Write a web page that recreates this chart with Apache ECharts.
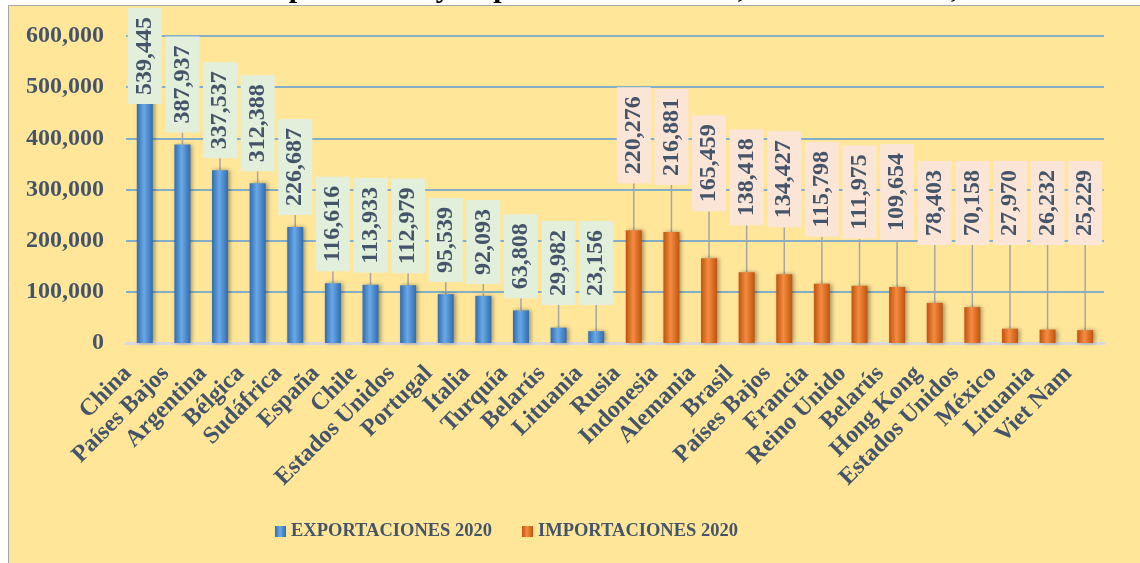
<!DOCTYPE html>
<html>
<head>
<meta charset="utf-8">
<script src="https://cdn.jsdelivr.net/npm/echarts@6/dist/echarts.min.js"></script>
<style>
  html, body { margin: 0; padding: 0; background: #fff; }
  #chart { width: 1140px; height: 563px; }
</style>
</head>
<body>
<div id="chart"></div>
<script>
// datos (toneladas, 2020)
const exportCountries = ['China', 'Países Bajos', 'Argentina', 'Bélgica', 'Sudáfrica', 'España', 'Chile',
  'Estados Unidos', 'Portugal', 'Italia', 'Turquía', 'Belarús', 'Lituania'];
const exportValues = [539445, 387937, 337537, 312388, 226687, 116616, 113933, 112979, 95539, 92093, 63808, 29982, 23156];
const importCountries = ['Rusia', 'Indonesia', 'Alemania', 'Brasil', 'Países Bajos', 'Francia', 'Reino Unido',
  'Belarús', 'Hong Kong', 'Estados Unidos', 'México', 'Lituania', 'Viet Nam'];
const importValues = [220276, 216881, 165459, 138418, 134427, 115798, 111975, 109654, 78403, 70158, 27970, 26232, 25229];
const yTicks = [0, 100000, 200000, 300000, 400000, 500000, 600000];
const seriesNames = ['EXPORTACIONES 2020', 'IMPORTACIONES 2020'];

const categories = exportCountries.concat(importCountries);
const pad = n => new Array(n).fill('-');
const exportData = exportValues.concat(pad(importValues.length));
const importData = pad(exportValues.length).concat(importValues);

const font = 'Liberation Serif';
const txt = '#44546A';
const fmt = v => Number(v).toLocaleString('en-US');

const chart = echarts.init(document.getElementById('chart'));

// coloca la llamada encima de la barra (girada 90°: dx local = hacia arriba)
// gap: separación mínima con la barra, floor: borde inferior más bajo permitido
function lift(gap, floor) {
  return function (p) {
    const r = p.labelRect;
    const bottom = Math.min(p.rect.y - gap, floor);
    let up = (r.y + r.height) - bottom;
    if (r.y - up < 8) up = r.y - 8;
    return { dx: up };
  };
}

function barColor(edge, mid) {
  return new echarts.graphic.LinearGradient(0, 0, 1, 0, [
    { offset: 0, color: edge },
    { offset: 0.45, color: mid },
    { offset: 1, color: edge }
  ]);
}

function labelOpt(bg) {
  return {
    show: true,
    position: 'top',
    distance: 4,
    rotate: 90,
    align: 'left',
    verticalAlign: 'middle',
    formatter: p => fmt(p.value),
    color: txt,
    fontFamily: font,
    fontWeight: 'bold',
    fontSize: 24,
    backgroundColor: bg,
    padding: [6, 9, 4, 9]
  };
}

chart.setOption({
  backgroundColor: '#fff',
  animation: false,
  graphic: [{
    type: 'rect',
    z: -10,
    silent: true,
    shape: { x: 8.5, y: 5.5, width: 1140, height: 570 },
    style: { fill: '#FFE699', stroke: '#A6A6A6', lineWidth: 1 }
  }],
  title: {
    text: 'Gráfico 1: Importadores y Exportadores de Pera, a nivel mundial, 2020',
    left: 'center',
    top: -31,
    textStyle: { fontFamily: font, fontWeight: 'bold', fontSize: 30, color: '#000' }
  },
  legend: {
    data: seriesNames,
    bottom: 17,
    left: 270,
    icon: 'rect',
    itemWidth: 11,
    itemHeight: 11,
    itemGap: 30,
    textStyle: { fontFamily: font, fontWeight: 'bold', fontSize: 18.5, color: txt }
  },
  grid: { left: 126, right: 36, top: 36, bottom: 220 },
  xAxis: {
    type: 'category',
    data: categories,
    axisTick: { show: false },
    axisLine: { lineStyle: { color: '#D9D9D9', width: 3 } },
    axisLabel: {
      interval: 0,
      rotate: 45,
      margin: 10,
      padding: [0, 24, 0, 0],
      color: txt,
      fontFamily: font,
      fontWeight: 'bold',
      fontSize: 24
    }
  },
  yAxis: {
    type: 'value',
    min: yTicks[0],
    max: yTicks[yTicks.length - 1],
    interval: yTicks[1] - yTicks[0],
    axisLine: { show: false },
    axisTick: { show: false },
    axisLabel: {
      margin: 22,
      formatter: fmt,
      color: txt,
      fontFamily: font,
      fontWeight: 'bold',
      fontSize: 24
    },
    splitLine: { lineStyle: { color: '#5B9BD5', width: 1.5 } }
  },
  series: [
    {
      name: seriesNames[0],
      type: 'bar',
      stack: 'pais',
      barWidth: 16,
      data: exportData,
      itemStyle: {
        color: barColor('#2F6DB0', '#6AA8E6'),
        shadowColor: 'rgba(0,0,0,0.35)',
        shadowBlur: 4,
        shadowOffsetX: 2
      },
      label: labelOpt('#E2EFDA'),
      labelLine: { show: true, lineStyle: { color: '#A6A6A6', width: 1.5 } },
      labelLayout: lift(12, 305)
    },
    {
      name: seriesNames[1],
      type: 'bar',
      stack: 'pais',
      barWidth: 16,
      data: importData,
      itemStyle: {
        color: barColor('#C0540F', '#F48C40'),
        shadowColor: 'rgba(0,0,0,0.35)',
        shadowBlur: 4,
        shadowOffsetX: 2
      },
      label: labelOpt('#FBE5D6'),
      labelLine: { show: true, lineStyle: { color: '#A6A6A6', width: 1.5 } },
      labelLayout: lift(47, 245)
    }
  ]
});
</script>
</body>
</html>
